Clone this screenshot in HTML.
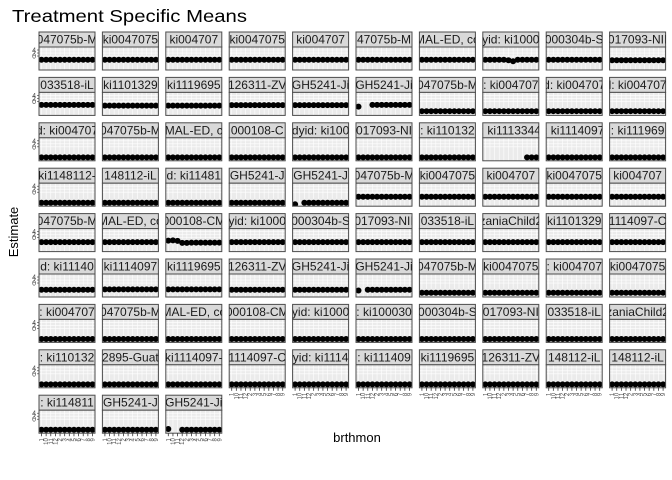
<!DOCTYPE html>
<html><head><meta charset="utf-8"><style>
body{margin:0;background:#fff;}
svg{display:block;font-family:"Liberation Sans",sans-serif;}
</style></head><body>
<svg id="chart" width="672" height="480" viewBox="0 0 672 480">
<text x="12" y="22" font-size="17.5" textLength="235" lengthAdjust="spacingAndGlyphs" fill="#000">Treatment Specific Means</text>
<text transform="translate(18,232) rotate(-90)" text-anchor="middle" font-size="13">Estimate</text>
<text x="357" y="442" text-anchor="middle" font-size="13">brthmon</text>
<g id="panels"></g>
</svg>
<script>
const months = ["1","10","11","12","2","3","4","5","6","7","8","9"];
const yTicks = [4, 2, 0];
const stripLabels = [
"047075b-M","ki0047075","ki004707","ki0047075","ki004707","47075b-M","MAL-ED, co","yid: ki1000","000304b-S","017093-NII",
"033518-iL","ki1101329","ki1119695","126311-ZV","GH5241-Ji","GH5241-Ji","047075b-M",": ki004707","d: ki004707","l: ki004707",
"d: ki004707","047075b-M","MAL-ED, c","000108-C","dyid: ki100","017093-NI",": ki110132",": ki1113344",": ki1114097",": ki111969",
"ki1148112-","148112-iL","d: ki11481","GH5241-J","GH5241-J","047075b-M","ki0047075","ki004707","ki0047075","ki004707",
"047075b-M","MAL-ED, co","000108-CM","yid: ki1000","000304b-S","017093-NII","033518-iL","zaniaChild2","ki1101329","1114097-C",
"d: ki11140","ki1114097","ki1119695","126311-ZV","GH5241-Ji","GH5241-Ji","047075b-M","ki0047075",": ki004707","ki0047075",
": ki004707","047075b-M","MAL-ED, co","000108-CM","yid: ki1000",": ki100030","000304b-S","017093-NI","033518-iL","zaniaChild2",
": ki110132","2895-Guat","ki1114097-","1114097-C","yid: ki1114",": ki111409","ki1119695","126311-ZV","148112-iL","148112-iL",
": ki114811","GH5241-J","GH5241-Ji"];
// base estimate level per panel
const panelLevels = [
-2.5,-2.5,-2.5,-2.5,-2.5,-2.5,-2.5,-2.5,-2.5,-2.8,
-2.3,-2.8,-2.8,-2.5,-2.5,-2.5,-6.5,-6.5,-6.5,-6.5,
-7,-7,-7,-7,-7,-7,-7,-7,-7,-7,
-7,-7,-7,-7,-7,-3,-3,-3,-3,-3,
-3,-3,-3,-3,-3,-3,-3,-3,-3,-3,
-4.5,-4.2,-4.2,-4.5,-4.5,-4.5,-6.5,-6.5,-6.5,-6.5,
-7,-7,-7,-7,-7,-7,-7,-7,-7,-7,
-7,-7,-7,-7,-7,-7,-7,-7,-7,-7,
-7,-7,-7];
// special panels with individual values (null = missing)
const specialSeries = {
  7: [-2.5,-2.5,-2.5,-2.5,-2.5,-2.8,-3.5,-2.5,-2.5,-2.5,-2.5,-2.5],
  15: [-3.5,null,null,-2.3,-2.3,-2.3,-2.3,-2.3,-2.3,-2.3,-2.3,-2.3],
  27: [null,null,null,null,null,null,null,null,null,-7,-7,-7],
  34: [-8,null,-7,-7,-7,-7,-7,-7,-7,-7,-7,-7],
  42: [-2,-1.8,-2.2,-3.5,-3.5,-3.3,-3.3,-3.3,-3.3,-3.3,-3.3,-3.3],
  55: [-5,null,-4.5,-4.5,-4.5,-4.5,-4.5,-4.5,-4.5,-4.5,-4.5,-4.5],
  82: [-6.5,null,null,-7,-7,-7,-7,-7,-7,-7,-7,-7]
};
const NS='http://www.w3.org/2000/svg';
const g=document.getElementById('panels');
const pw=56, stripH=15, plotH=23, colPitch=63.4, rowPitch=45.4, x0=39, y0=32;
const yMin=-9.3, yMax=6;
function mk(tag,attrs,parent){const e=document.createElementNS(NS,tag);for(const k in attrs)e.setAttribute(k,attrs[k]);parent.appendChild(e);return e;}
stripLabels.forEach((lab,i)=>{
  const r=Math.floor(i/10), c=i%10;
  const px=x0+c*colPitch, sy=y0+r*rowPitch, py=sy+stripH;
  const xs=v=>px+2.5+ (v/(months.length-1))*(pw-5);
  const ys=v=>py+plotH-(v-yMin)/(yMax-yMin)*plotH;
  const pg=mk('g',{},g);
  
  
  const cp=mk('clipPath',{id:'cp'+i},pg);
  mk('rect',{x:px,y:sy,width:pw,height:stripH},cp);
  const st=mk('rect',{x:px,y:sy,width:pw,height:stripH,fill:'#d9d9d9',stroke:'#4d4d4d','stroke-width':1},pg);
  
  
  const tx=mk('text',{x:px+pw/2,y:sy+11.5,'text-anchor':'middle','font-size':12,fill:'#1a1a1a','clip-path':'url(#cp'+i+')'},pg);
  tx.textContent=lab;
  
  
  const pc=mk('clipPath',{id:'pc'+i},pg);
  mk('rect',{x:px,y:py,width:pw,height:plotH},pc);
  mk('rect',{x:px,y:py,width:pw,height:plotH,fill:'#ebebeb'},pg);
  months.forEach((m,k)=>mk('line',{x1:xs(k),x2:xs(k),y1:py,y2:py+plotH,stroke:'#fff','stroke-width':0.6},pg));
  yTicks.forEach(t=>mk('line',{x1:px,x2:px+pw,y1:ys(t),y2:ys(t),stroke:'#fff','stroke-width':0.6},pg));
  const vals=specialSeries[i]||months.map(()=>panelLevels[i]);
  const dg=mk('g',{'clip-path':'url(#pc'+i+')'},pg);
  vals.forEach((v,k)=>{ if(v===null)return;
    const d=mk('circle',{cx:xs(k),cy:ys(v),r:3,fill:'#000'},dg);
    
    
  });
  mk('rect',{x:px,y:py,width:pw,height:plotH,fill:'none',stroke:'#4d4d4d','stroke-width':1},pg);
  if(c===0){
    yTicks.forEach(t=>{
      mk('line',{x1:px-2,x2:px,y1:ys(t),y2:ys(t),stroke:'#333','stroke-width':0.6},pg);
      const yl=mk('text',{x:px-3,y:ys(t)+2.5,'text-anchor':'end','font-size':7,fill:'#4d4d4d'},pg);
      yl.textContent=t;
      
      
    });
  }
  const bottom = (r===8) || (r===7 && c>=3);
  if(bottom){
    months.forEach((m,k)=>{
      mk('line',{x1:xs(k),x2:xs(k),y1:py+plotH,y2:py+plotH+3,stroke:'#333','stroke-width':0.8},pg);
      const xl=mk('text',{'text-anchor':'end','font-size':6,fill:'#4d4d4d',transform:'translate('+(xs(k)+2)+','+(py+plotH+5)+') rotate(-90)'},pg);
      xl.textContent=m;
      
      
    });
  }
});
</script>
</body></html>
